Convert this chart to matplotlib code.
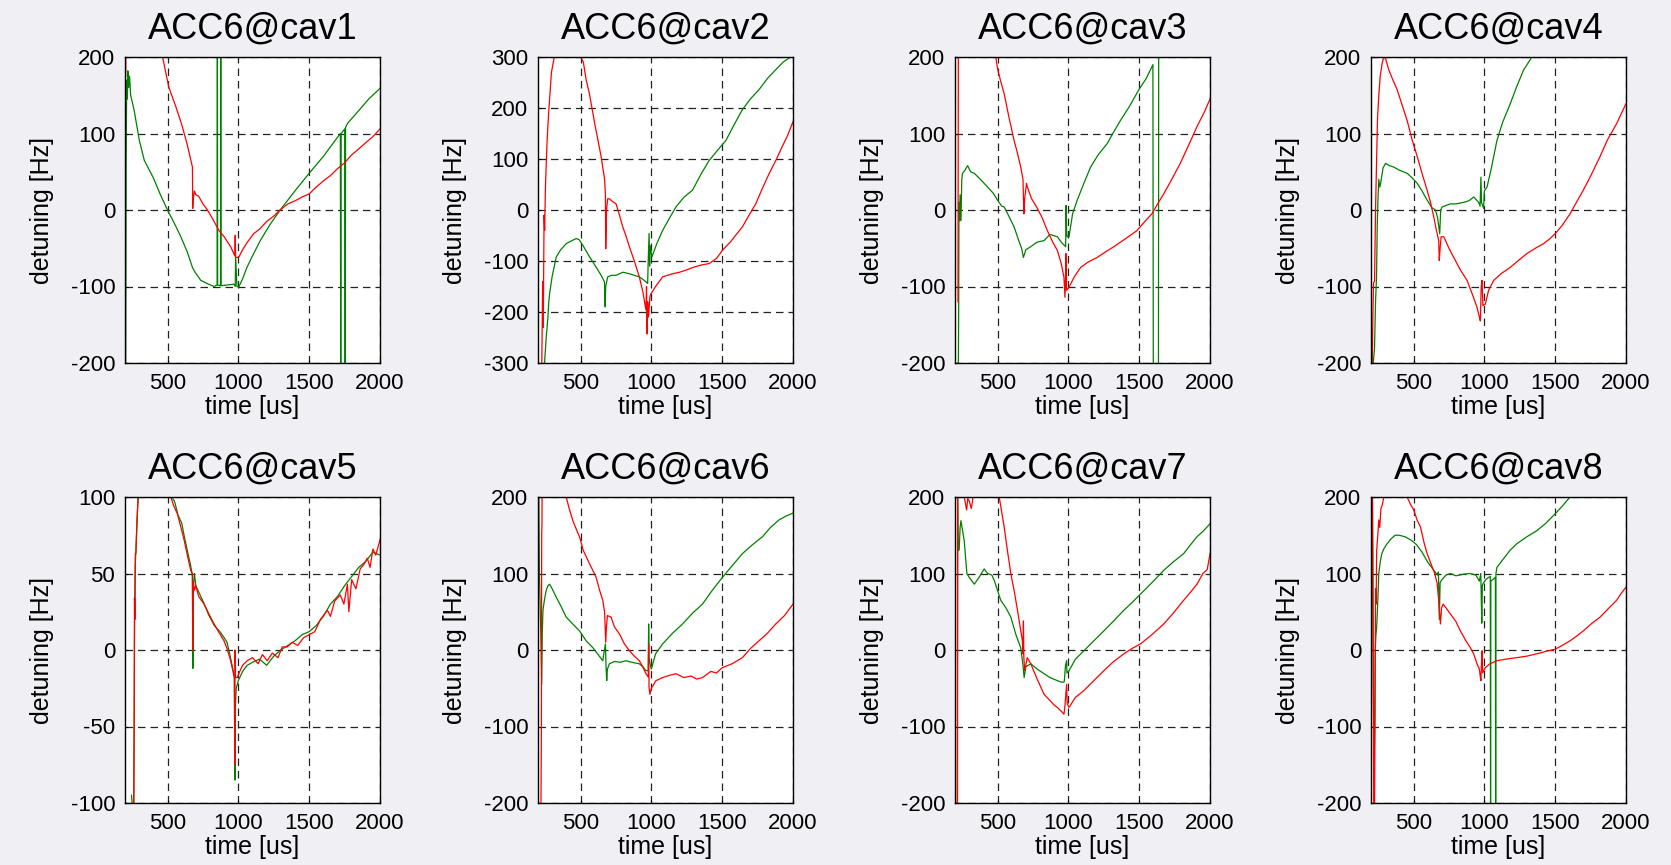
import numpy as np
import matplotlib
matplotlib.use("Agg")
import matplotlib.pyplot as plt

plt.rcParams["font.family"] = ["Liberation Sans", "DejaVu Sans"]
plt.rcParams["axes.unicode_minus"] = False

# --- data: (time [us], detuning [Hz]) ------------------------------------
CAV_NAMES = ["ACC6@cav1", "ACC6@cav2", "ACC6@cav3", "ACC6@cav4",
             "ACC6@cav5", "ACC6@cav6", "ACC6@cav7", "ACC6@cav8"]
Y_LIMITS = [200, 300, 200, 200, 100, 200, 200, 200]
Y_STEPS = [100, 100, 100, 100, 50, 100, 100, 100]
X_TICKS = [500, 1000, 1500, 2000]

CAV1_GREEN = [(205, -200), (208, 60), (212, 170), (216, 145), (220, 182), (226, 160), (232, 175),
              (240, 150), (265, 130), (300, 92), (336, 65), (400, 42), (450, 20), (500, 0),
              (550, -18), (594, -35), (640, -55), (676, -75), (690, -80), (735, -92), (790, -97),
              (829, -100), (850, -98), (852, 260), (854, -98), (874, -99), (876, 260), (878, -99),
              (920, -98), (969, -97), (978, -100), (981, -62), (990, -100), (1002, -101),
              (1030, -90), (1061, -75), (1100, -60), (1155, -40), (1220, -20), (1295, 0),
              (1400, 25), (1500, 48), (1600, 70), (1700, 95), (1720, 100), (1723, -250),
              (1726, 100), (1751, 106), (1754, -250), (1757, 108), (1770, 113), (1850, 130),
              (1920, 145), (2000, 159)]
CAV1_RED = [(205, 175), (208, 260), (460, 260), (465, 200), (510, 160), (559, 135), (600, 112),
            (640, 85), (676, 56), (678, 2), (682, 15), (690, 25), (700, 20), (720, 18), (750, 8),
            (782, 0), (820, -12), (864, -27), (900, -35), (946, -48), (975, -60), (978, -33),
            (981, -62), (1002, -62), (1030, -52), (1060, -43), (1108, -31), (1150, -25),
            (1200, -15), (1250, -8), (1295, 0), (1350, 8), (1400, 12), (1450, 17), (1500, 21),
            (1550, 30), (1600, 38), (1650, 45), (1700, 54), (1746, 61), (1800, 72), (1850, 80),
            (1900, 88), (1950, 96), (2000, 106)]

CAV2_GREEN = [(240, -320), (246, -300), (258, -250), (270, -210), (276, -180), (282, -164),
              (300, -130), (329, -92), (360, -78), (399, -66), (440, -60), (469, -56), (490, -58),
              (516, -69), (560, -90), (610, -112), (650, -130), (669, -141), (674, -190),
              (678, -150), (692, -131), (720, -128), (751, -128), (800, -122), (845, -125),
              (880, -128), (915, -131), (950, -138), (974, -144), (978, -100), (984, -46),
              (988, -110), (992, -70), (1004, -92), (1040, -65), (1080, -40), (1130, -15),
              (1174, 6), (1230, 25), (1291, 39), (1350, 70), (1408, 97), (1470, 118), (1526, 136),
              (1580, 165), (1643, 197), (1700, 218), (1760, 236), (1820, 258), (1878, 275),
              (1930, 290), (1983, 300), (2000, 305)]
CAV2_RED = [(226, -320), (233, -140), (237, -230), (243, -10), (247, -40), (252, 40), (258, 90),
            (265, 140), (275, 190), (285, 230), (295, 270), (305, 285), (315, 300), (322, 330),
            (495, 330), (500, 300), (520, 290), (540, 255), (563, 228), (600, 170), (646, 104),
            (670, 60), (676, 30), (678, -76), (684, 0), (692, 22), (704, 22), (720, 18), (751, 12),
            (775, -10), (798, -33), (820, -50), (845, -72), (880, -100), (915, -131), (940, -160),
            (962, -196), (966, -150), (970, -243), (974, -180), (980, -210), (990, -170),
            (998, -164), (1030, -150), (1080, -131), (1150, -125), (1200, -122), (1244, -118),
            (1300, -112), (1350, -108), (1408, -105), (1460, -95), (1502, -79), (1560, -62),
            (1600, -48), (1643, -33), (1690, -10), (1737, 12), (1780, 40), (1831, 71),
            (1880, 98), (1925, 125), (1960, 145), (2000, 173)]

CAV3_GREEN = [(221, -200), (224, -200), (226, -120), (228, 10), (232, -14), (236, 20), (242, -14),
              (248, 40), (253, 48), (270, 52), (289, 58), (310, 50), (336, 48), (380, 40),
              (430, 30), (470, 22), (500, 13), (530, 5), (547, 4), (580, -8), (617, -22),
              (650, -40), (670, -50), (683, -62), (700, -52), (734, -48), (780, -42), (829, -40),
              (870, -32), (923, -35), (950, -42), (981, -48), (984, 6), (988, -30), (992, -35),
              (1005, -35), (1030, -5), (1063, 13), (1110, 35), (1157, 56), (1210, 72), (1275, 87),
              (1320, 102), (1368, 117), (1430, 135), (1497, 157), (1550, 172), (1597, 190),
              (1600, -250), (1636, -250), (1638, 260), (2000, 330)]
CAV3_RED = [(221, -120), (224, 260), (480, 260), (488, 200), (500, 185), (520, 170), (547, 152),
            (580, 122), (617, 91), (640, 75), (664, 56), (680, 40), (686, -5), (692, 15), (705, 35),
            (711, 30), (740, 15), (782, 2), (815, -10), (852, -27), (890, -42), (923, -53),
            (950, -70), (969, -88), (976, -114), (980, -90), (983, -57), (987, -105), (1005, -101),
            (1040, -88), (1087, -75), (1140, -68), (1204, -62), (1260, -55), (1321, -48),
            (1400, -38), (1484, -27), (1540, -15), (1590, -5), (1630, 8), (1673, 21), (1730, 40),
            (1790, 61), (1850, 85), (1908, 109), (1960, 128), (2000, 145)]

CAV4_GREEN = [(213, -230), (216, -200), (225, -180), (232, -120), (239, -88), (244, -20),
              (249, 13), (255, 40), (262, 30), (268, 35), (285, 55), (303, 61), (330, 58),
              (362, 56), (400, 52), (455, 48), (490, 42), (526, 35), (560, 25), (596, 13),
              (630, 3), (655, 0), (670, -10), (685, -31), (692, 0), (702, 4), (730, 6), (761, 8),
              (800, 8), (854, 10), (890, 12), (925, 17), (960, 10), (970, 5), (976, 43), (980, 10),
              (995, 2), (1000, 25), (1019, 30), (1050, 55), (1089, 91), (1130, 115), (1183, 139),
              (1230, 162), (1277, 183), (1336, 200), (1400, 225)]
CAV4_RED = [(206, -230), (209, -200), (214, -130), (218, -95), (225, -93), (232, 0), (239, 61),
            (246, 120), (256, 152), (265, 175), (279, 192), (290, 200), (303, 198), (315, 190),
            (326, 183), (350, 172), (385, 157), (420, 137), (455, 117), (490, 92), (526, 70),
            (560, 48), (596, 26), (620, 10), (643, -9), (660, -25), (678, -40), (682, -66),
            (688, -50), (695, -35), (714, -35), (750, -50), (784, -62), (830, -78), (878, -92),
            (915, -110), (948, -127), (965, -140), (972, -145), (978, -100), (984, -92),
            (990, -125), (1007, -123), (1030, -105), (1066, -92), (1120, -83), (1183, -75),
            (1240, -66), (1300, -57), (1360, -50), (1418, -44), (1460, -38), (1500, -31),
            (1550, -20), (1605, -5), (1650, 10), (1699, 26), (1760, 48), (1817, 70), (1870, 92),
            (1934, 113), (2000, 139)]

CAV5_GREEN = [(246, -95), (250, -100), (262, -100), (265, -45), (268, 25), (272, 55), (277, 65),
              (285, 85), (292, 100), (300, 103), (520, 103), (530, 100), (550, 97), (575, 88),
              (600, 83), (617, 75), (640, 65), (664, 55), (676, 48), (679, -12), (682, 40),
              (690, 50), (700, 42), (720, 38), (760, 30), (790, 23), (830, 16), (870, 12),
              (900, 8), (920, 5), (940, -3), (960, -12), (972, -18), (976, -85), (980, -35),
              (985, -25), (1000, -20), (1030, -14), (1063, -10), (1100, -8), (1150, -6),
              (1200, -10), (1250, -4), (1300, 0), (1350, 3), (1400, 6), (1450, 10), (1500, 12),
              (1550, 16), (1600, 22), (1650, 30), (1700, 35), (1750, 42), (1800, 48), (1850, 54),
              (1900, 58), (1950, 64), (2000, 62)]
CAV5_RED = [(258, -110), (262, -100), (265, -38), (267, 34), (270, 20), (273, 63), (277, 63),
            (283, 80), (289, 93), (296, 102), (510, 102), (523, 100), (545, 94), (570, 89),
            (595, 80), (617, 72), (640, 62), (664, 52), (676, 50), (678, 0), (681, 45), (690, 39),
            (700, 42), (720, 35), (758, 30), (790, 24), (829, 17), (860, 12), (899, 6), (920, 1),
            (946, -7), (965, -15), (972, -18), (975, -75), (977, 0), (980, -18), (993, -18),
            (1010, -14), (1030, -10), (1063, -7), (1100, -5), (1140, -9), (1170, -3), (1204, -7),
            (1240, -2), (1280, -5), (1310, 2), (1345, 2), (1380, 5), (1420, 3), (1460, 8),
            (1500, 10), (1540, 12), (1580, 20), (1629, 26), (1650, 22), (1680, 32), (1720, 36),
            (1745, 30), (1770, 43), (1780, 25), (1800, 46), (1830, 40), (1860, 53), (1887, 56),
            (1910, 60), (1930, 54), (1950, 66), (1970, 62), (2000, 72)]

CAV6_GREEN = [(201, -200), (202, -180), (203, 210), (205, 210), (210, 100), (220, 20), (226, -45),
              (230, 20), (235, 52), (245, 65), (258, 78), (270, 84), (282, 86), (300, 80),
              (329, 69), (360, 58), (399, 43), (440, 35), (493, 25), (540, 12), (587, 3),
              (620, -5), (657, -14), (676, 8), (680, -20), (685, -40), (690, -25), (704, -18),
              (740, -15), (780, -16), (822, -14), (860, -16), (915, -18), (940, -22), (962, -27),
              (978, -27), (981, 34), (984, -10), (990, -18), (1000, -25), (1030, -5), (1080, 8),
              (1150, 22), (1220, 34), (1290, 48), (1361, 60), (1430, 78), (1502, 95), (1570, 110),
              (1643, 126), (1710, 137), (1784, 148), (1840, 160), (1901, 170), (1950, 175),
              (2000, 179)]
CAV6_RED = [(221, -200), (224, -100), (226, 150), (228, 165), (230, 250), (395, 250), (399, 200),
            (420, 185), (446, 169), (470, 158), (493, 148), (520, 130), (563, 113), (590, 103),
            (610, 95), (635, 78), (657, 65), (670, 50), (678, 10), (683, 30), (690, 45), (716, 43),
            (740, 30), (775, 21), (810, 8), (845, -1), (880, -8), (915, -14), (940, -22),
            (962, -31), (978, -35), (981, 8), (984, -50), (990, -58), (1000, -50), (1033, -40),
            (1080, -36), (1130, -33), (1174, -31), (1230, -36), (1280, -34), (1320, -38),
            (1361, -36), (1420, -28), (1460, -30), (1502, -23), (1570, -18), (1643, -10),
            (1700, 2), (1760, 12), (1820, 22), (1878, 34), (1940, 45), (2000, 60)]

CAV7_GREEN = [(214, -200), (216, -200), (218, 200), (222, 140), (226, 130), (230, 134), (236, 160),
              (242, 169), (250, 160), (265, 143), (275, 120), (284, 100), (300, 95), (320, 90),
              (336, 86), (370, 95), (406, 106), (430, 100), (460, 98), (477, 91), (500, 78),
              (523, 65), (560, 55), (594, 43), (630, 20), (664, 3), (680, -20), (688, -36),
              (700, -22), (735, -18), (780, -25), (829, -31), (870, -36), (922, -40), (950, -42),
              (969, -42), (972, -40), (980, -20), (988, -14), (990, -30), (1005, -27), (1050, -12),
              (1110, -1), (1180, 12), (1251, 25), (1320, 38), (1392, 52), (1450, 62), (1509, 73),
              (1590, 88), (1673, 104), (1740, 115), (1814, 126), (1860, 137), (1908, 148),
              (1950, 155), (2000, 165)]
CAV7_RED = [(215, -200), (218, -200), (220, 240), (262, 240), (265, 200), (275, 190), (282, 183),
            (290, 198), (300, 195), (315, 185), (324, 195), (330, 240), (505, 240), (512, 200),
            (530, 180), (547, 161), (570, 130), (594, 100), (620, 75), (641, 52), (660, 30),
            (676, 12), (680, -5), (683, 38), (686, -10), (692, -27), (710, -10), (735, -18),
            (780, -38), (829, -58), (870, -66), (900, -72), (922, -75), (950, -80), (969, -84),
            (975, -75), (988, -45), (992, -70), (1005, -75), (1050, -62), (1110, -53),
            (1180, -40), (1251, -27), (1320, -15), (1392, -5), (1450, 2), (1509, 8), (1590, 20),
            (1673, 34), (1740, 48), (1814, 65), (1860, 75), (1908, 86), (1950, 100), (1980, 105),
            (1990, 115), (2000, 126)]

CAV8_GREEN = [(206, 200), (208, 230), (212, 60), (216, -40), (222, -165), (226, -100), (230, 0),
              (235, 20), (240, 30), (247, 60), (255, 100), (265, 115), (275, 125), (290, 132),
              (310, 138), (340, 145), (370, 150), (400, 150), (440, 148), (480, 144), (520, 138),
              (560, 128), (600, 115), (640, 105), (670, 98), (676, 102), (682, 40), (688, 88),
              (700, 92), (730, 98), (760, 100), (800, 97), (850, 99), (900, 100), (940, 98),
              (965, 90), (975, 100), (978, 72), (982, 35), (986, 85), (995, 88), (1010, 92),
              (1030, 95), (1042, 96), (1044, -250), (1046, 90), (1078, 95), (1080, -250),
              (1082, 100), (1089, 108), (1130, 118), (1180, 130), (1230, 139), (1300, 148),
              (1371, 156), (1430, 165), (1500, 178), (1550, 188), (1605, 200), (1700, 215),
              (2000, 260)]
CAV8_RED = [(201, -200), (202, 230), (210, 230), (214, 120), (219, -200), (225, -210), (228, -100),
            (232, 80), (236, 60), (240, 130), (248, 150), (255, 170), (262, 160), (270, 185),
            (280, 190), (290, 200), (300, 230), (450, 230), (455, 200), (480, 190), (502, 183),
            (525, 170), (549, 161), (575, 140), (596, 126), (631, 109), (650, 100), (667, 87),
            (680, 60), (690, 34), (698, 55), (709, 60), (730, 55), (761, 47), (800, 37), (831, 25),
            (870, 12), (901, 3), (925, -5), (948, -18), (965, -25), (972, -36), (976, -40),
            (980, -15), (984, -1), (988, -30), (1007, -23), (1040, -18), (1089, -14), (1150, -12),
            (1230, -10), (1300, -8), (1371, -5), (1430, -2), (1500, 1), (1550, 6), (1605, 12),
            (1650, 18), (1699, 25), (1760, 35), (1817, 43), (1880, 55), (1934, 65), (1970, 75),
            (2000, 82)]

GREEN_TRACES = [CAV1_GREEN, CAV2_GREEN, CAV3_GREEN, CAV4_GREEN,
                CAV5_GREEN, CAV6_GREEN, CAV7_GREEN, CAV8_GREEN]
RED_TRACES = [CAV1_RED, CAV2_RED, CAV3_RED, CAV4_RED,
              CAV5_RED, CAV6_RED, CAV7_RED, CAV8_RED]

# --- layout (pixel boxes of the original figure) --------------------------
W, H = 1671, 865
BG = "#efeff4"
COL_LEFT = [125, 538, 955, 1371]
ROW_TOP = [57, 497]
AX_W, AX_H = 255, 306

fig = plt.figure(figsize=(W / 100, H / 100), dpi=100, facecolor=BG)

for i, name in enumerate(CAV_NAMES):
    row, col = divmod(i, 4)
    left, top = COL_LEFT[col], ROW_TOP[row]
    ax = fig.add_axes([left / W, 1 - (top + AX_H) / H, AX_W / W, AX_H / H])
    ax.set_facecolor("white")

    g = np.array(GREEN_TRACES[i], dtype=float)
    r = np.array(RED_TRACES[i], dtype=float)
    ax.plot(g[:, 0], g[:, 1], color="#008000", lw=0.9)
    ax.plot(r[:, 0], r[:, 1], color="#ff0000", lw=0.9)

    lim = Y_LIMITS[i]
    ax.set_xlim(200, 2000)
    ax.set_ylim(-lim, lim)
    ax.set_xticks(X_TICKS)
    ax.set_yticks(np.arange(-lim, lim + 1, Y_STEPS[i]))

    # matlab-like dashed black grid
    ax.grid(True, color="#222222", linestyle=(0, (6, 4)), linewidth=0.9)
    ax.tick_params(direction="in", length=2, labelsize=16, pad=7)
    for spine in ax.spines.values():
        spine.set_linewidth(1.0)
        spine.set_edgecolor("black")

    ax.set_title(name, fontsize=26, pad=13)
    ax.set_xlabel("time [us]", fontsize=18, labelpad=1)
    ax.set_ylabel("detuning [Hz]", fontsize=18, labelpad=12)

fig.savefig("out.png", dpi=100, facecolor=fig.get_facecolor())
